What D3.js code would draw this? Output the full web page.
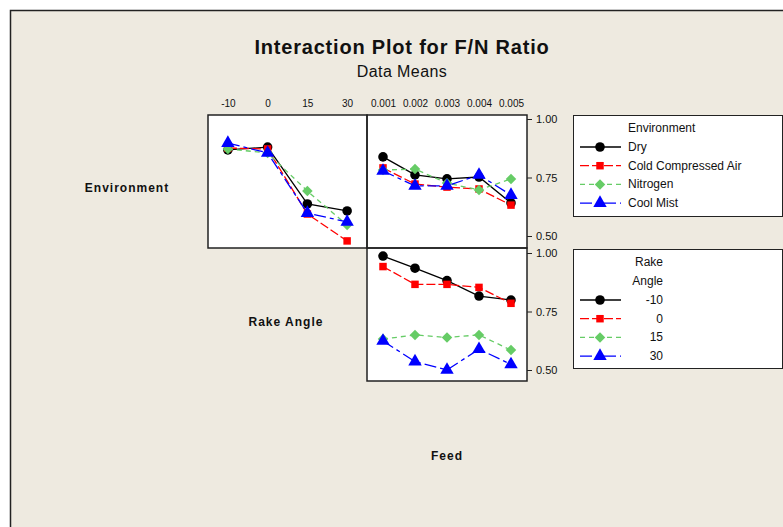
<!DOCTYPE html>
<html>
<head>
<meta charset="utf-8">
<script src="https://cdn.jsdelivr.net/npm/d3@7"></script>
<style>
  body { margin: 0; background: #fff; }
  text { font-family: "Liberation Sans", Arial, sans-serif; fill: #111; }
</style>
</head>
<body>
<div id="chart"></div>
<script>
var svgWidth = 783;
var svgHeight = 527;

// levels
var envLevels = ["Dry", "Cold Compressed Air", "Nitrogen", "Cool Mist"];
var rakeLevels = ["-10", "0", "15", "30"];
var feedLevels = ["0.001", "0.002", "0.003", "0.004", "0.005"];
var yTicks = [0.50, 0.75, 1.00];

// means: environment x rake angle (one row per environment)
var envByRake = [
    [0.868, 0.880, 0.637, 0.607],
    [0.876, 0.872, 0.594, 0.479],
    [0.872, 0.855, 0.692, 0.547],
    [0.897, 0.855, 0.598, 0.560]
];

// means: environment x feed
var envByFeed = [
    [0.838, 0.761, 0.744, 0.752, 0.641],
    [0.791, 0.722, 0.709, 0.701, 0.632],
    [0.782, 0.786, 0.726, 0.697, 0.744],
    [0.778, 0.714, 0.714, 0.761, 0.675]
];

// means: rake angle x feed
var rakeByFeed = [
    [0.987, 0.935, 0.882, 0.816, 0.799],
    [0.942, 0.866, 0.866, 0.853, 0.785],
    [0.632, 0.650, 0.639, 0.650, 0.585],
    [0.624, 0.536, 0.500, 0.589, 0.524]
];

// series styles
var styles = [
    { color: "#000000", dash: null, symbol: d3.symbolCircle, size: 72 },
    { color: "#ff0000", dash: "9,3", symbol: d3.symbolSquare, size: 56 },
    { color: "#66cc66", dash: "5,4", symbol: d3.symbolDiamond2, size: 70 },
    { color: "#0000ff", dash: "12,4,4,4", symbol: d3.symbolTriangle, size: 78 }
];

var svg = d3.select("#chart")
    .append("svg")
    .attr("width", svgWidth)
    .attr("height", svgHeight);

// background frame
svg.append("rect")
    .attr("x", 10).attr("y", 10)
    .attr("width", svgWidth).attr("height", svgHeight)
    .attr("fill", "#eeeae0");
svg.append("path")
    .attr("d", `M10.5,${svgHeight} V10.5 H${svgWidth}`)
    .attr("fill", "none")
    .attr("stroke", "#222")
    .attr("stroke-width", 1.5);

// titles
svg.append("text")
    .attr("x", 402).attr("y", 54)
    .attr("text-anchor", "middle")
    .style("font-size", "20px")
    .style("font-weight", "bold")
    .style("letter-spacing", "0.8px")
    .text("Interaction Plot for F/N Ratio");
svg.append("text")
    .attr("x", 402).attr("y", 77)
    .attr("text-anchor", "middle")
    .style("font-size", "16px")
    .style("letter-spacing", "0.4px")
    .text("Data Means");

// row / column labels
function rowLabel(x, y, t) {
    svg.append("text").attr("x", x).attr("y", y)
        .attr("text-anchor", "middle")
        .style("font-size", "12px").style("font-weight", "bold")
        .style("letter-spacing", "1px")
        .text(t);
}
rowLabel(127, 192, "Environment");
rowLabel(286, 326, "Rake Angle");
rowLabel(447, 460, "Feed");

// scales
var xRake = d3.scalePoint().domain(rakeLevels).range([208, 367]).padding(0.5);
var xFeed = d3.scalePoint().domain(feedLevels).range([367, 527]).padding(0.5);
var yTop = d3.scaleLinear().domain([0.5, 1.0]).range([236, 119]);
var yBot = d3.scaleLinear().domain([0.5, 1.0]).range([370, 253]);

// panels
var panels = [
    { x: xRake, y: yTop, data: envByRake, box: [208, 115, 367, 248] },
    { x: xFeed, y: yTop, data: envByFeed, box: [367, 115, 527, 248] },
    { x: xFeed, y: yBot, data: rakeByFeed, box: [367, 248, 527, 381] }
];

panels.forEach(function (p) {
    var b = p.box;
    svg.append("rect")
        .attr("x", b[0]).attr("y", b[1])
        .attr("width", b[2] - b[0]).attr("height", b[3] - b[1])
        .attr("fill", "#fff");
});

panels.forEach(function (p) {
    var levels = p.x.domain();
    p.data.forEach(function (vals, i) {
        var st = styles[i];
        var pts = vals.map(function (v, j) { return [p.x(levels[j]), p.y(v)]; });
        svg.append("path")
            .attr("d", d3.line()(pts))
            .attr("fill", "none")
            .attr("stroke", st.color)
            .attr("stroke-width", 1.3)
            .attr("stroke-dasharray", st.dash);
        svg.selectAll(null)
            .data(pts)
            .enter()
            .append("path")
            .attr("transform", d => `translate(${d[0]},${d[1]})`)
            .attr("d", d3.symbol().type(st.symbol).size(st.size))
            .attr("fill", st.color);
    });
});

panels.forEach(function (p) {
    var b = p.box;
    svg.append("rect")
        .attr("x", b[0]).attr("y", b[1])
        .attr("width", b[2] - b[0]).attr("height", b[3] - b[1])
        .attr("fill", "none")
        .attr("stroke", "#222")
        .attr("stroke-width", 1.5);
});

// top axes
[xRake, xFeed].forEach(function (x) {
    svg.append("g")
        .attr("transform", "translate(0,115)")
        .call(d3.axisTop(x).tickSize(0).tickPadding(8))
        .call(g => g.select(".domain").remove())
        .selectAll("text").style("font-size", "10px");
});

// right axes
[yTop, yBot].forEach(function (y) {
    svg.append("g")
        .attr("transform", "translate(527,0)")
        .call(d3.axisRight(y).tickValues(yTicks).tickFormat(d3.format(".2f")).tickSize(5).tickPadding(4))
        .call(g => g.select(".domain").remove())
        .call(g => g.selectAll("line").attr("stroke", "#222"))
        .selectAll("text").style("font-size", "11px");
});

// legends
function legend(top, height, titleLines, labels, anchorEnd) {
    var g = svg.append("g");
    g.append("rect")
        .attr("x", 573.5).attr("y", top + 0.5)
        .attr("width", 209).attr("height", height)
        .attr("fill", "#fff")
        .attr("stroke", "#222");
    titleLines.forEach(function (t, k) {
        g.append("text")
            .attr("x", anchorEnd ? 663 : 628)
            .attr("y", top + 17 + k * 19)
            .attr("text-anchor", anchorEnd ? "end" : "start")
            .style("font-size", "12px")
            .text(t);
    });
    var y0 = top + 32 + (titleLines.length - 1) * 19;
    labels.forEach(function (lab, i) {
        var st = styles[i];
        var yy = y0 + i * 18.7;
        g.append("line")
            .attr("x1", 580).attr("x2", 621)
            .attr("y1", yy).attr("y2", yy)
            .attr("stroke", st.color)
            .attr("stroke-width", 1.3)
            .attr("stroke-dasharray", st.dash);
        g.append("path")
            .attr("transform", `translate(600,${yy})`)
            .attr("d", d3.symbol().type(st.symbol).size(st.size))
            .attr("fill", st.color);
        g.append("text")
            .attr("x", anchorEnd ? 663 : 628)
            .attr("y", yy + 4)
            .attr("text-anchor", anchorEnd ? "end" : "start")
            .style("font-size", "12px")
            .text(lab);
    });
}

legend(115, 101, ["Environment"], envLevels, false);
legend(249, 119, ["Rake", "Angle"], rakeLevels, true);
</script>
</body>
</html>
